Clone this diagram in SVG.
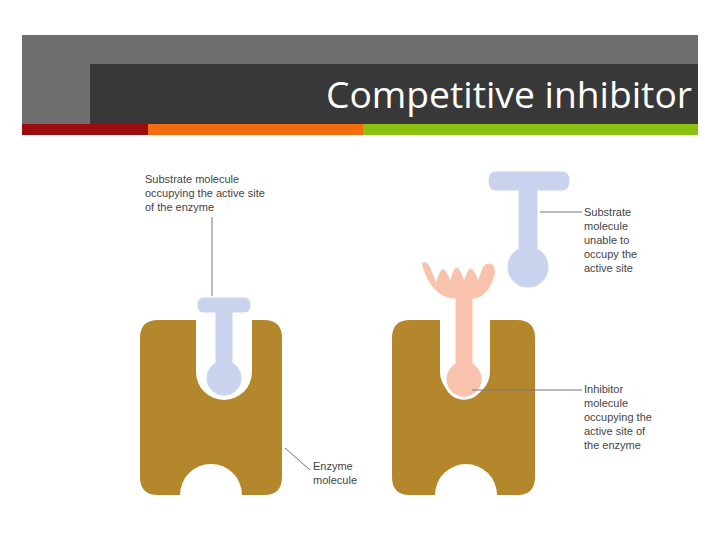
<svg xmlns="http://www.w3.org/2000/svg" width="720" height="540" viewBox="0 0 720 540">
<style>
.lbl{font-family:"Liberation Sans",Arial,sans-serif;font-size:11px;fill:#444}
.enz{fill:#b5872c}
.sub{fill:#c9d3ee;stroke:#fff;stroke-width:3}
.inh{fill:#f8c2ad;stroke:#fff;stroke-width:3}
.ln{stroke:#777;stroke-width:1;fill:none}
</style>
<rect width="720" height="540" fill="#fff"/>
<g id="header">
<rect x="22" y="35" width="676" height="89" fill="#6e6e6e"/>
<rect x="90" y="64" width="608" height="60" fill="#383838"/>
<text x="692" y="108" text-anchor="end" font-family="Open Sans,Liberation Sans,sans-serif" font-size="36" textLength="366" lengthAdjust="spacingAndGlyphs" fill="#fff">Competitive inhibitor</text>
<rect x="22" y="124" width="126" height="11" fill="#9b0d0d"/>
<rect x="148" y="124" width="215" height="11" fill="#f36c0e"/>
<rect x="363" y="124" width="335" height="11" fill="#8cc20f"/>
</g>
<g id="enzyme-left">
<path class="enz" d="M158 320 H196 V372 A28 28 0 0 0 252 372 V320 H264 Q282 320 282 338 V477 Q282 495 264 495 H242 A31 31 0 0 0 180 495 H158 Q140 495 140 477 V338 Q140 320 158 320 Z"/>
</g>
<g id="substrate-left">
<path class="sub" d="M204 296 H244 Q252 296 252 305 Q252 314 244 314 H234 V362 A19 19 0 1 1 214 362 V314 H204 Q196 314 196 305 Q196 296 204 296 Z"/>
</g>
<g id="enzyme-right">
<path class="enz" d="M410 320 H440 V372 A25 25 0 0 0 490 372 V320 H517 Q535 320 535 338 V477 Q535 495 517 495 H497 A31 31 0 0 0 435 495 H410 Q392 495 392 477 V338 Q392 320 410 320 Z"/>
</g>
<g id="inhibitor">
<path class="inh" d="M420 262 Q428 258 432 268 L436 278 Q442 258 450 276 Q456 256 464 276 Q470 258 478 276 Q482 262 488 262 Q498 262 496 276 Q490 296 476 300 H474 V363 A19 19 0 1 1 454 363 V300 H452 Q428 296 420 262 Z"/>
</g>
<g id="substrate-right">
<path class="sub" d="M496 170 H562 Q571 170 571 181 Q571 192 562 192 H539 V248 A22 22 0 1 1 517 248 V192 H496 Q487 192 487 181 Q487 170 496 170 Z"/>
</g>
<g id="connectors">
<line class="ln" x1="212" y1="217" x2="212" y2="296"/>
<line class="ln" x1="540" y1="212" x2="582" y2="212"/>
<line class="ln" x1="472" y1="390" x2="582" y2="390"/>
<line class="ln" x1="285" y1="448" x2="310" y2="470"/>
</g>
<g id="labels">
<text class="lbl" x="145" y="183">Substrate molecule</text>
<text class="lbl" x="145" y="197">occupying the active site</text>
<text class="lbl" x="145" y="211">of the enzyme</text>
<text class="lbl" x="584" y="216">Substrate</text>
<text class="lbl" x="584" y="230">molecule</text>
<text class="lbl" x="584" y="244">unable to</text>
<text class="lbl" x="584" y="258">occupy the</text>
<text class="lbl" x="584" y="272">active site</text>
<text class="lbl" x="584" y="393">Inhibitor</text>
<text class="lbl" x="584" y="407">molecule</text>
<text class="lbl" x="584" y="421">occupying the</text>
<text class="lbl" x="584" y="435">active site of</text>
<text class="lbl" x="584" y="449">the enzyme</text>
<text class="lbl" x="313" y="470">Enzyme</text>
<text class="lbl" x="313" y="484">molecule</text>
</g>
</svg>
